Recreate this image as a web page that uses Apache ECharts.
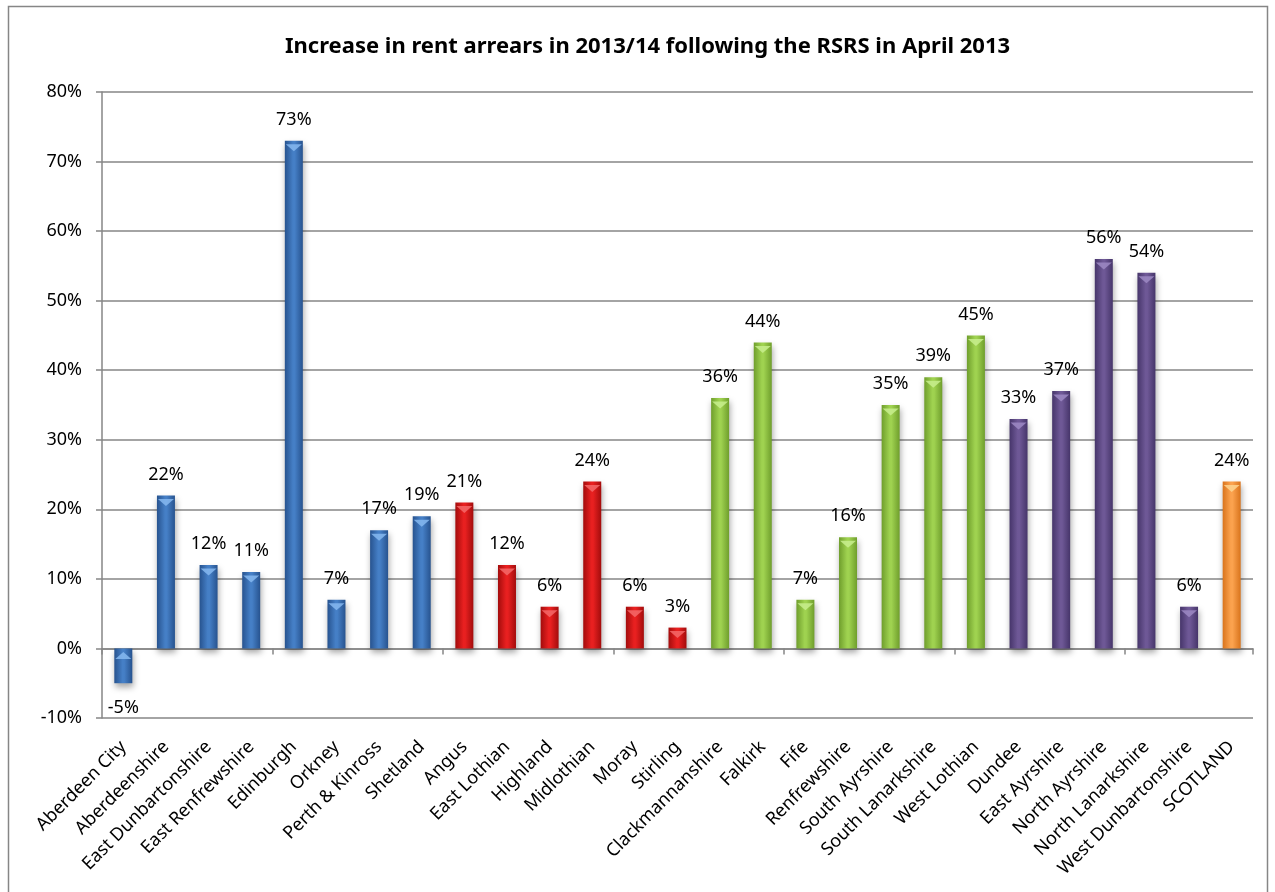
<!DOCTYPE html>
<html>
<head>
<meta charset="utf-8">
<script src="https://cdn.jsdelivr.net/npm/echarts@6/dist/echarts.min.js"></script>
<style>
  html, body { margin: 0; padding: 0; background: #fff; }
  #chart { width: 1275px; height: 892px; }
</style>
</head>
<body>
<div id="chart"></div>
<script>
// Local authorities, grouped by region colour
const categories = [
  'Aberdeen City', 'Aberdeenshire', 'East Dunbartonshire', 'East Renfrewshire',
  'Edinburgh', 'Orkney', 'Perth & Kinross', 'Shetland',
  'Angus', 'East Lothian', 'Highland', 'Midlothian', 'Moray', 'Stirling',
  'Clackmannanshire', 'Falkirk', 'Fife', 'Renfrewshire', 'South Ayrshire',
  'South Lanarkshire', 'West Lothian',
  'Dundee', 'East Ayrshire', 'North Ayrshire', 'North Lanarkshire', 'West Dunbartonshire',
  'SCOTLAND'
];
// Percentage increase in rent arrears
const increase = [
  -5, 22, 12, 11, 73, 7, 17, 19,
  21, 12, 6, 24, 6, 3,
  36, 44, 7, 16, 35, 39, 45,
  33, 37, 56, 54, 6,
  24
];
// Colour group for each authority
const groups = [
  'blue', 'blue', 'blue', 'blue', 'blue', 'blue', 'blue', 'blue',
  'red', 'red', 'red', 'red', 'red', 'red',
  'green', 'green', 'green', 'green', 'green', 'green', 'green',
  'purple', 'purple', 'purple', 'purple', 'purple',
  'orange'
];
const yTicks = { min: -10, max: 80, step: 10 };

const palette = {
  blue:   ['#27538f', '#457fc6', '#27538f'],
  red:    ['#a30c0c', '#e82020', '#a30c0c'],
  green:  ['#6f9e2c', '#9fd250', '#6f9e2c'],
  purple: ['#46356a', '#6e5896', '#46356a'],
  orange: ['#d9741c', '#fba24e', '#d9741c']
};
const capColour = {
  blue: '#86b9f0', red: '#f46a6a', green: '#c8ee8e', purple: '#9e8ac4', orange: '#fdd590'
};

function grad(c) {
  return new echarts.graphic.LinearGradient(0, 0, 1, 0, [
    { offset: 0, color: c[0] },
    { offset: 0.45, color: c[1] },
    { offset: 0.55, color: c[1] },
    { offset: 1, color: c[2] }
  ]);
}

const barData = increase.map((v, i) => ({
  value: v,
  itemStyle: { color: grad(palette[groups[i]]) },
  label: { position: v < 0 ? 'bottom' : 'top', distance: v < 0 ? 16 : 12 }
}));

// Light bevel cap sitting at the top edge of each bar
const capData = increase.map((v, i) => ({
  value: v,
  symbolPosition: v < 0 ? 'start' : 'end',
  itemStyle: { color: capColour[groups[i]], opacity: 0.85 }
}));

const font = '"Noto Sans", "Open Sans", sans-serif';
const chart = echarts.init(document.getElementById('chart'));
chart.setOption({
  animation: false,
  textStyle: { fontFamily: font },
  graphic: [{
    type: 'rect',
    shape: { x: 8.5, y: 6.5, width: 1259, height: 900 },
    style: { fill: 'none', stroke: '#868686', lineWidth: 1.5 },
    silent: true
  }],
  title: {
    text: 'Increase in rent arrears in 2013/14 following the RSRS in April 2013',
    left: 280,
    top: 31,
    textStyle: { fontFamily: font, fontWeight: 'bold', fontSize: 22, color: '#000' }
  },
  grid: { left: 102, right: 22, top: 92, bottom: 174 },
  xAxis: [{
    type: 'category',
    data: categories,
    position: 'bottom',
    axisLine: { show: false, onZero: false },
    axisTick: { show: false },
    axisLabel: {
      interval: 0, rotate: 45, fontSize: 18, color: '#000', fontFamily: font, margin: 26
    }
  }, {
    type: 'category',
    data: categories,
    position: 'top',
    axisLine: { show: true, onZero: true, lineStyle: { color: '#868686', width: 1.5 } },
    axisTick: { show: true, inside: true, length: 6, lineStyle: { color: '#868686', width: 1.5 } },
    axisLabel: { show: false }
  }],
  yAxis: {
    type: 'value',
    min: yTicks.min,
    max: yTicks.max,
    interval: yTicks.step,
    axisLine: { show: true, lineStyle: { color: '#868686', width: 1.5 } },
    axisTick: { show: true, length: 6, lineStyle: { color: '#868686', width: 1.5 } },
    axisLabel: { formatter: '{value}%', fontSize: 18, color: '#000', fontFamily: font, margin: 20 },
    splitLine: { show: true, lineStyle: { color: '#868686', width: 1.5 } }
  },
  series: [{
    type: 'bar',
    xAxisIndex: 0,
    data: barData,
    barWidth: 18,
    itemStyle: {
      shadowBlur: 6, shadowColor: 'rgba(0,0,0,0.35)', shadowOffsetY: 4, shadowOffsetX: 1
    },
    label: {
      show: true,
      formatter: p => p.value + '%',
      fontSize: 18,
      color: '#000',
      fontFamily: font
    },
    z: 2
  }, {
    type: 'pictorialBar',
    xAxisIndex: 0,
    data: capData,
    symbol: 'path://M0,0 L10,0 L5,4 Z',
    symbolSize: [16, 7],
    symbolOffset: [0, '50%'],
    barGap: '-100%',
    silent: true,
    z: 3
  }]
});
</script>
</body>
</html>
